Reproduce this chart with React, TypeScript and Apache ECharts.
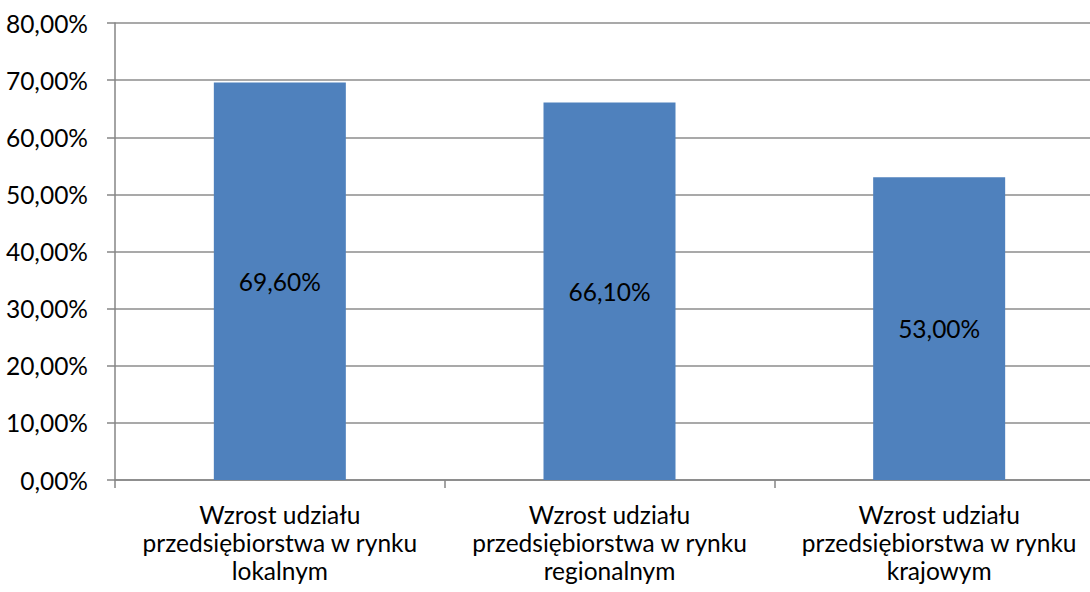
import React, { useEffect, useRef } from "react";
import * as echarts from "echarts";

const categories = [
  "Wzrost udziału\nprzedsiębiorstwa w rynku\nlokalnym",
  "Wzrost udziału\nprzedsiębiorstwa w rynku\nregionalnym",
  "Wzrost udziału\nprzedsiębiorstwa w rynku\nkrajowym",
];
const values = [69.6, 66.1, 53.0];

const fmt = (v: number) => v.toFixed(2).replace(".", ",") + "%";

export default function App() {
  const ref = useRef<HTMLDivElement>(null);
  useEffect(() => {
    if (!ref.current) return;
    const chart = echarts.init(ref.current, null, { renderer: "svg" });
    const font = "Lato";
    const fs = 24.5;
    chart.setOption({
      animation: false,
      grid: { left: 115, right: 0, top: 23, height: 457, containLabel: false },
      xAxis: {
        type: "category",
        data: categories,
        axisLine: { lineStyle: { color: "#868686", width: 1.5 } },
        axisTick: { show: true, length: 8, lineStyle: { color: "#868686", width: 1.5 } },
        axisLabel: {
          color: "#000",
          fontFamily: font,
          fontSize: fs,
          lineHeight: 28,
          margin: 20,
          interval: 0,
          align: "center",
        },
        splitLine: { show: false },
      },
      yAxis: {
        type: "value",
        min: 0,
        max: 80,
        interval: 10,
        axisLine: { show: true, lineStyle: { color: "#868686", width: 1.5 } },
        axisTick: { show: true, length: 8, lineStyle: { color: "#868686", width: 1.5 } },
        axisLabel: {
          color: "#000",
          fontFamily: font,
          fontSize: fs,
          margin: 27,
          formatter: (v: number) => fmt(v),
        },
        splitLine: { show: true, lineStyle: { color: "#8c8c8c", width: 1.5 } },
      },
      series: [
        {
          type: "bar",
          data: values,
          barWidth: 132,
          itemStyle: { color: "#4F81BD" },
          label: {
            show: true,
            position: "inside",
            color: "#000",
            fontFamily: font,
            fontSize: fs,
            formatter: (p: any) => fmt(p.value),
          },
        },
      ],
    });
    return () => chart.dispose();
  }, []);
  return (
    <div style={{ position: "absolute", left: 0, top: 0, width: 1090, height: 592, overflow: "hidden", background: "#fff" }}>
      <div ref={ref} style={{ width: 1104, height: 592 }} />
    </div>
  );
}
